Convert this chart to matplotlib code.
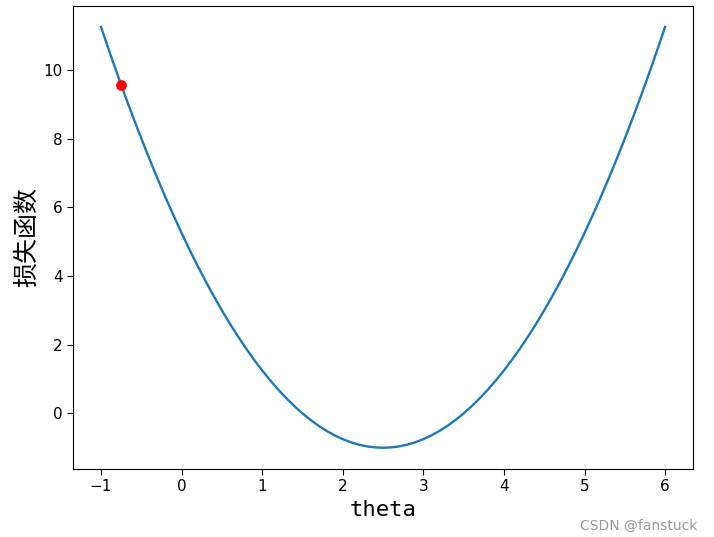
import matplotlib
matplotlib.use('Agg')
import matplotlib.pyplot as plt

plt.rcParams['font.family'] = ['Noto Sans CJK SC', 'DejaVu Sans']
plt.rcParams['axes.unicode_minus'] = True

# Data
theta = [-1.0, -0.9, -0.8, -0.7, -0.6, -0.5, -0.4, -0.3, -0.2, -0.1,
         0.0, 0.1, 0.2, 0.3, 0.4, 0.5, 0.6, 0.7, 0.8, 0.9,
         1.0, 1.1, 1.2, 1.3, 1.4, 1.5, 1.6, 1.7, 1.8, 1.9,
         2.0, 2.1, 2.2, 2.3, 2.4, 2.5, 2.6, 2.7, 2.8, 2.9,
         3.0, 3.1, 3.2, 3.3, 3.4, 3.5, 3.6, 3.7, 3.8, 3.9,
         4.0, 4.1, 4.2, 4.3, 4.4, 4.5, 4.6, 4.7, 4.8, 4.9,
         5.0, 5.1, 5.2, 5.3, 5.4, 5.5, 5.6, 5.7, 5.8, 5.9, 6.0]
loss = [11.25, 10.56, 9.89, 9.24, 8.61, 8.0, 7.41, 6.84, 6.29, 5.76,
        5.25, 4.76, 4.29, 3.84, 3.41, 3.0, 2.61, 2.24, 1.89, 1.56,
        1.25, 0.96, 0.69, 0.44, 0.21, 0.0, -0.19, -0.36, -0.51, -0.64,
        -0.75, -0.84, -0.91, -0.96, -0.99, -1.0, -0.99, -0.96, -0.91, -0.84,
        -0.75, -0.64, -0.51, -0.36, -0.19, 0.0, 0.21, 0.44, 0.69, 0.96,
        1.25, 1.56, 1.89, 2.24, 2.61, 3.0, 3.41, 3.84, 4.29, 4.76,
        5.25, 5.76, 6.29, 6.84, 7.41, 8.0, 8.61, 9.24, 9.89, 10.56, 11.25]
point_x = [-0.75]
point_y = [9.5625]

fig = plt.figure(figsize=(7.14, 5.37), dpi=100)
ax = fig.add_axes([0.102, 0.127, 0.869, 0.862])

ax.plot(theta, loss, color='#1f77b4', linewidth=1.7)
ax.scatter(point_x, point_y, color='red', s=45, zorder=3)

ax.set_xlabel('theta', fontsize=16, family=['DejaVu Sans Mono'])
ax.set_ylabel('损失函数', fontsize=18, labelpad=2)

ax.tick_params(axis='both', labelsize=11, length=4)
for lbl in ax.get_xticklabels() + ax.get_yticklabels():
    lbl.set_family(['DejaVu Sans'])

fig.text(0.977, 0.008, 'CSDN @fanstuck', ha='right', va='bottom',
         fontsize=10, color='#999999', family=['DejaVu Sans'])

fig.savefig('out.png', dpi=100)
